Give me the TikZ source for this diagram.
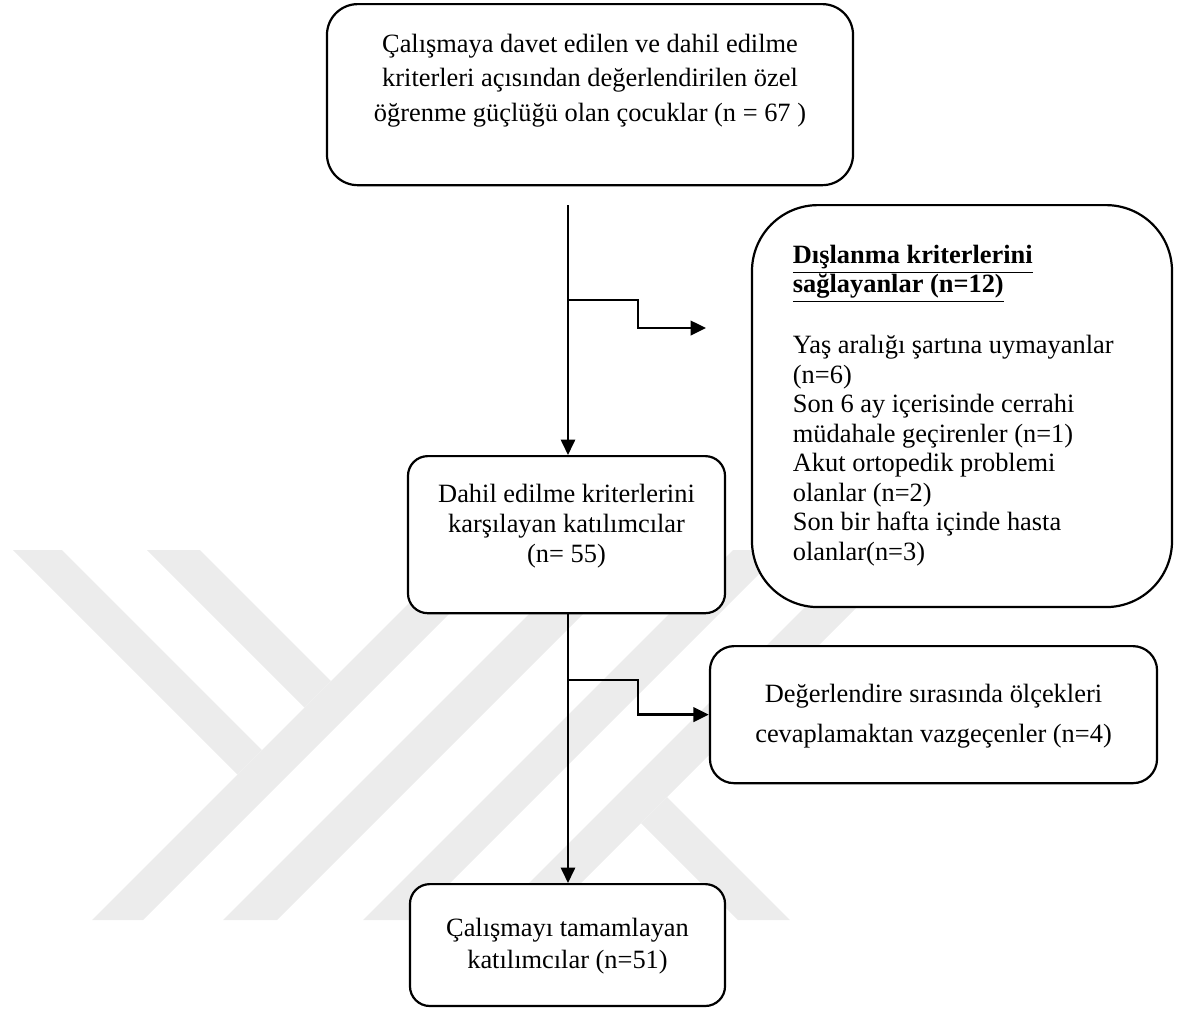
\documentclass[tikz,border=0pt]{standalone}
\usepackage{fontspec}
\setmainfont{Liberation Serif}
\usepackage{tikz}
\usetikzlibrary{arrows.meta, positioning}
\definecolor{wmgray}{RGB}{236,236,236}

\begin{document}
\begin{tikzpicture}[x=0.4545pt, y=-0.4545pt,
      box/.style={rectangle, draw, line width=1pt, fill=white, inner sep=0pt},
      arr/.style={-{Triangle[length=7pt, width=6.5pt]}, line width=0.9pt},
      stp/.style={-{Triangle[length=7pt, width=6.5pt]}, line width=1.3pt},
      wm/.style={fill=wmgray, draw=none}
    ]
    \useasboundingbox (0,0) rectangle (1185,1010);

    % faint logo behind the chart
    \fill[wm] (13,550) -- (62,550) -- (262,750) -- (237.5,774.5) -- cycle;
    \fill[wm] (147,550) -- (200,550) -- (331,681) -- (304.5,707.5) -- cycle;
    \fill[wm] (92,920) -- (143,920) -- (513,550) -- (462,550) -- cycle;
    \fill[wm] (223,920) -- (277,920) -- (647,550) -- (593,550) -- cycle;
    \fill[wm] (363,920) -- (413,920) -- (783,550) -- (733,550) -- cycle;
    \fill[wm] (492,920) -- (544,920) -- (914,550) -- (862,550) -- cycle;
    \fill[wm] (667,797) -- (790,920) -- (738,920) -- (641,823) -- cycle;

    \node[box, rounded corners=14pt, anchor=north, font=\fontsize{12}{15.7}\selectfont] (davet) at (590,3)
      {\parbox[c][82.3pt][t]{239.1pt}{\centering\vspace*{13.6pt}%
        Çalışmaya davet edilen ve dahil edilme\\
        kriterleri açısından değerlendirilen özel\\
        öğrenme güçlüğü olan çocuklar (n = 67 )}};
    \node[box, rounded corners=30pt, anchor=north, font=\fontsize{12}{13.4}\selectfont] (dislanan) at (962,204)
      {\parbox[c][182.7pt][t]{190.9pt}{\raggedright\leftskip=18.6pt\vspace*{18.2pt}%
        \underline{\textbf{Dışlanma kriterlerini}}\\
        \underline{\textbf{sağlayanlar (n=12)}}\\[14.3pt]
        Yaş aralığı şartına uymayanlar\\
        (n=6)\\
        Son 6 ay içerisinde cerrahi\\
        müdahale geçirenler (n=1)\\
        Akut ortopedik problemi\\
        olanlar (n=2)\\
        Son bir hafta içinde hasta\\
        olanlar(n=3)}};
    \node[box, rounded corners=9pt, anchor=north, font=\fontsize{12}{13.6}\selectfont] (dahil) at (566.5,455)
      {\parbox[c][71.4pt][t]{144.1pt}{\centering\vspace*{12.7pt}%
        Dahil edilme kriterlerini\\
        karşılayan katılımcılar\\
        (n= 55)}};
    \node[box, rounded corners=11pt, anchor=north, font=\fontsize{12}{18.2}\selectfont] (deger) at (933.5,645)
      {\parbox[c][62.3pt][t]{203.2pt}{\centering\vspace*{17.3pt}%
        Değerlendire sırasında ölçekleri\\
        cevaplamaktan vazgeçenler (n=4)}};
    \node[box, rounded corners=9pt, anchor=north, font=\fontsize{12}{14.5}\selectfont] (tamam) at (567.5,883)
      {\parbox[c][55.4pt][t]{143.2pt}{\centering\vspace*{15.5pt}%
        Çalışmayı tamamlayan\\
        katılımcılar (n=51)}};

    \coordinate (a1) at (568,205);
    \coordinate (b1) at (568,300);
    \coordinate (b1e) at (706,328);
    \coordinate (b2) at (568,680);

    \draw[arr] (a1) -- (a1 |- dahil.north);
    \draw[arr] (a1 |- dahil.south) -- (a1 |- tamam.north);
    \draw[stp] (b1) -- ++(70,0) |- (b1e);
    \draw[stp] (b2) -- ++(70,0) |- (deger.west);
  \end{tikzpicture}
\end{document}
